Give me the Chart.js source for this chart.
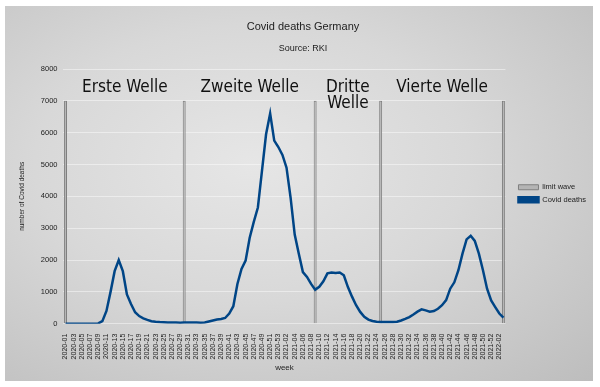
<!DOCTYPE html>
<html>
<head>
<meta charset="utf-8">
<script src="https://cdn.jsdelivr.net/npm/chart.js@4"></script>
<style>
  html, body { margin: 0; padding: 0; background: #fff; }
  #bg {
    position: absolute; left: 5px; top: 6px; width: 588px; height: 375px;
    background: radial-gradient(ellipse at 42% 42%, #e6e6e6 0%, #d8d8d8 45%, #bdbdbd 100%);
  }
  #wrap { position: absolute; left: 0; top: 0; width: 600px; height: 387px; }
</style>
</head>
<body>
<div id="bg"></div>
<div id="wrap"><canvas id="covidChart" width="600" height="387"></canvas></div>
<script>

// Kalenderwochen
const weeks = [
    "2020-01","2020-02","2020-03","2020-04","2020-05","2020-06","2020-07","2020-08","2020-09","2020-10",
    "2020-11","2020-12","2020-13","2020-14","2020-15","2020-16","2020-17","2020-18","2020-19","2020-20",
    "2020-21","2020-22","2020-23","2020-24","2020-25","2020-26","2020-27","2020-28","2020-29","2020-30",
    "2020-31","2020-32","2020-33","2020-34","2020-35","2020-36","2020-37","2020-38","2020-39","2020-40",
    "2020-41","2020-42","2020-43","2020-44","2020-45","2020-46","2020-47","2020-48","2020-49","2020-50",
    "2020-51","2020-52","2020-53",
    "2021-01","2021-02","2021-03","2021-04","2021-05","2021-06","2021-07","2021-08","2021-09","2021-10",
    "2021-11","2021-12","2021-13","2021-14","2021-15","2021-16","2021-17","2021-18","2021-19","2021-20",
    "2021-21","2021-22","2021-23","2021-24","2021-25","2021-26","2021-27","2021-28","2021-29","2021-30",
    "2021-31","2021-32","2021-33","2021-34","2021-35","2021-36","2021-37","2021-38","2021-39","2021-40",
    "2021-41","2021-42","2021-43","2021-44","2021-45","2021-46","2021-47","2021-48","2021-49","2021-50",
    "2021-51","2021-52",
    "2022-01","2022-02","2022-03"
];

const deaths = [
    0, 0, 0, 0, 0, 0, 0, 0, 10, 80,
    400, 1000, 1650, 2000, 1650, 920, 620, 360, 240, 170,
    120, 80, 60, 50, 45, 40, 40, 35, 30, 40,
    40, 35, 35, 30, 40, 70, 100, 130, 150, 180,
    320, 550, 1250, 1720, 1980, 2700, 3200, 3650, 4800, 5950,
    6600, 5750, 5550,
    5300, 4900, 3950, 2800, 2200, 1620, 1470, 1250, 1070, 1160,
    1330, 1580, 1610, 1590, 1610, 1520, 1150, 850, 580, 370,
    220, 130, 85, 60, 50, 50, 50, 55, 60, 100,
    150, 210, 290, 380, 450, 420, 380, 400, 470, 580,
    740, 1100, 1300, 1680, 2200, 2650, 2760, 2600, 2200, 1680,
    1100, 730,
    520, 320, 190
];

// Grenzen der Wellen
const limitWeeks = ["2020-01", "2020-30", "2021-09", "2021-25", "2022-03"];
const limitValue = 7000;
const waveNames = [["Erste Welle"], ["Zweite Welle"], ["Dritte", "Welle"], ["Vierte Welle"]];

const limitData = weeks.map(w => limitWeeks.includes(w) ? limitValue : null);

const waveText = {
    id: "waveText",
    afterDatasetsDraw(chart) {
        const { ctx, scales: { x, y } } = chart;
        ctx.save();
        ctx.font = '17px "DejaVu Sans Condensed", "DejaVu Sans", sans-serif';
        ctx.fillStyle = "#111";
        ctx.textAlign = "center";
        ctx.textBaseline = "middle";
        waveNames.forEach((lines, i) => {
            const a = weeks.indexOf(limitWeeks[i]);
            const b = weeks.indexOf(limitWeeks[i + 1]);
            const cx = x.getPixelForValue((a + b) / 2);
            lines.forEach((t, j) => {
                ctx.fillText(t, cx, y.getPixelForValue(limitValue) - 13 + j * 16);
            });
        });
        ctx.restore();
    }
};

// Legende etwas nach rechts/unten schieben
const legendShift = {
    id: "legendShift",
    afterLayout(chart) {
        chart.legend.left += 8;
        chart.legend.right += 8;
        chart.legend.top += 7;
        chart.legend.bottom += 7;
    }
};

Chart.defaults.font.family = '"Liberation Sans", Arial, sans-serif';
Chart.defaults.color = "#222";

new Chart(document.getElementById("covidChart"), {
    type: "bar",
    data: {
        labels: weeks,
        datasets: [
            {
                type: "bar",
                label: "limit wave",
                data: limitData,
                backgroundColor: "#b4b4b4",
                borderColor: "#7f7f7f",
                borderWidth: 1,
                barPercentage: 0.9,
                categoryPercentage: 0.8,
                order: 2
            },
            {
                type: "line",
                label: "Covid deaths",
                data: deaths,
                borderColor: "#004586",
                backgroundColor: "#004586",
                borderWidth: 2.5,
                pointRadius: 0,
                tension: 0,
                order: 1
            }
        ]
    },
    options: {
        responsive: false,
        animation: false,
        layout: { padding: { left: 18, right: 12, top: 0, bottom: 14 } },
        plugins: {
            title: {
                display: true,
                text: "Covid deaths Germany",
                font: { size: 11, weight: "normal" },
                padding: { top: 20, bottom: 9 }
            },
            subtitle: {
                display: true,
                text: "Source: RKI",
                font: { size: 9 },
                padding: { top: 1, bottom: 15 }
            },
            legend: {
                position: "right",
                labels: {
                    boxWidth: 20,
                    boxHeight: 5,
                    padding: 5,
                    font: { size: 7.5 },
                    sort: (a, b) => a.datasetIndex - b.datasetIndex
                }
            },
            tooltip: { enabled: false }
        },
        scales: {
            x: {
                grid: { display: false },
                border: { display: false },
                ticks: {
                    autoSkip: false,
                    maxRotation: 90,
                    minRotation: 90,
                    font: { size: 7 },
                    padding: 2,
                    callback: function (value, index) {
                        return index % 2 === 0 ? this.getLabelForValue(value) : "";
                    }
                },
                title: {
                    display: true,
                    text: "week",
                    font: { size: 8 },
                    padding: { top: 2, bottom: 0 }
                }
            },
            y: {
                min: 0,
                max: 8000,
                grid: { color: "rgba(255,255,255,0.45)", drawTicks: false },
                border: { display: false },
                ticks: {
                    stepSize: 1000,
                    font: { size: 7.5 },
                    padding: 6,
                    callback: v => String(v)
                },
                title: {
                    display: true,
                    text: "number of Covid deaths",
                    font: { size: 6.5 },
                    padding: { top: 0, bottom: 9 }
                }
            }
        }
    },
    plugins: [waveText, legendShift]
});

</script>
</body>
</html>
